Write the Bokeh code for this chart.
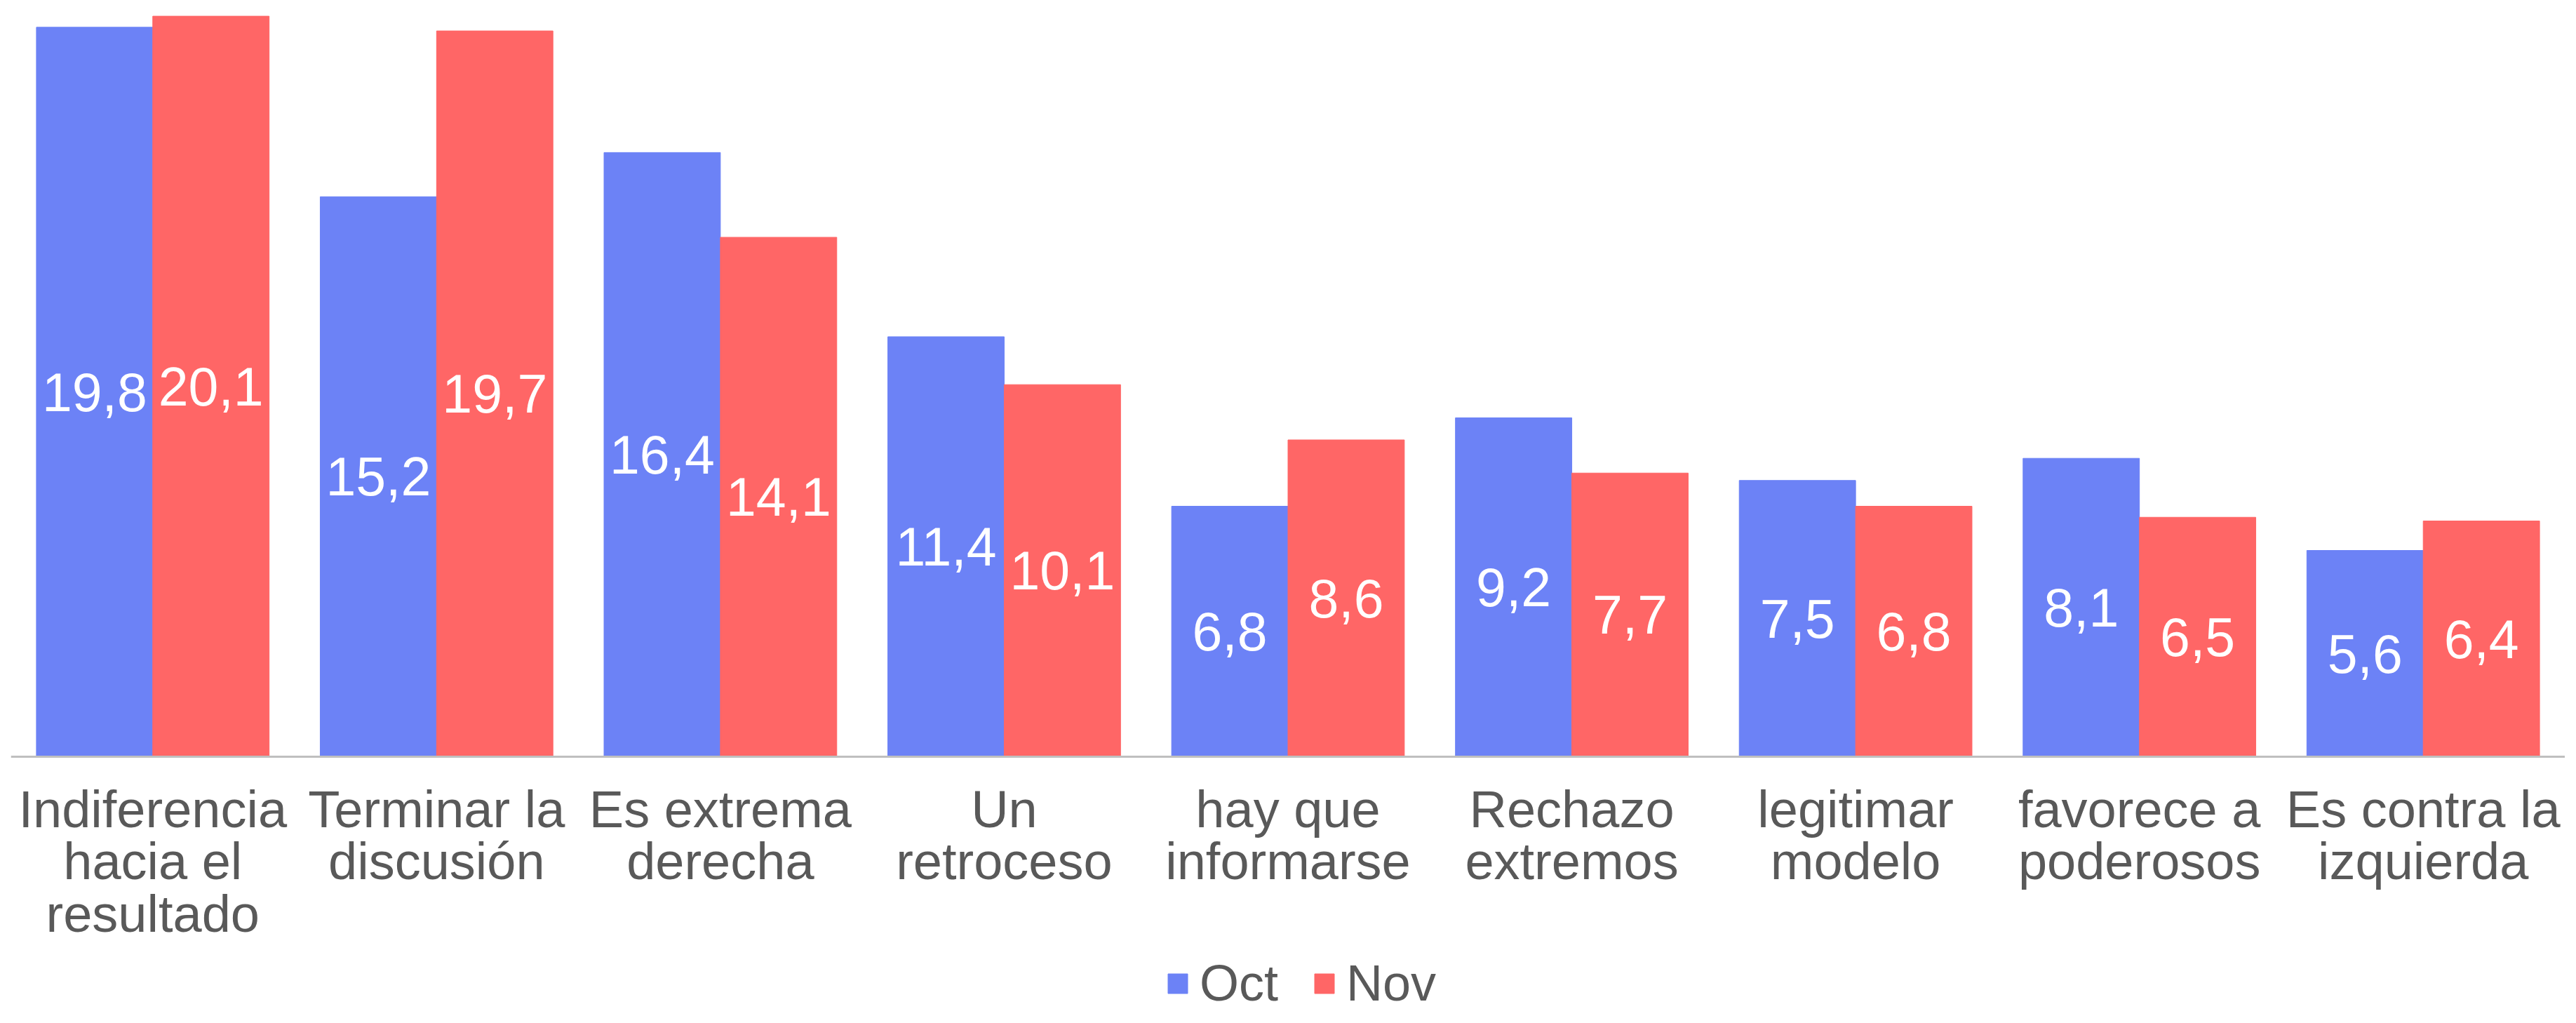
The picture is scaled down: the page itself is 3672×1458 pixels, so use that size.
from bokeh.plotting import figure
from bokeh.models import ColumnDataSource, FactorRange, Range1d, Legend, LegendItem, Span
from bokeh.transform import dodge
from bokeh.core.properties import value
from bokeh.embed import file_html
from bokeh.resources import INLINE

categories = ["Indiferencia\nhacia el\nresultado", "Terminar la\ndiscusión", "Es extrema\nderecha",
              "Un\nretroceso", "hay que\ninformarse", "Rechazo\nextremos", "legitimar\nmodelo",
              "favorece a\npoderosos", "Es contra la\nizquierda"]
oct_vals = [19.8, 15.2, 16.4, 11.4, 6.8, 9.2, 7.5, 8.1, 5.6]
nov_vals = [20.1, 19.7, 14.1, 10.1, 8.6, 7.7, 6.8, 6.5, 6.4]
series_names = ["Oct", "Nov"]

BLUE = "#6C82F6"
RED = "#FF6666"
FONT = "Liberation Sans"
TXT = "#595959"

def fmt(v):
    return f"{v:.1f}".replace(".", ",")

src = ColumnDataSource(dict(
    cat=categories,
    base=[0] * len(categories),
    oct=oct_vals, nov=nov_vals,
    oct_mid=[v / 2 for v in oct_vals], nov_mid=[v / 2 for v in nov_vals],
    oct_lbl=[fmt(v) for v in oct_vals], nov_lbl=[fmt(v) for v in nov_vals],
))

p = figure(width=3656, height=1442, output_backend="svg", toolbar_location=None,
           x_range=FactorRange(*categories, range_padding=0, factor_padding=0),
           y_range=Range1d(-6.93, 20.53),
           x_axis_location=None, y_axis_location=None,
           min_border_left=15, min_border_right=0, min_border_top=0, min_border_bottom=0)

r_oct = p.vbar(x=dodge("cat", -0.205, range=p.x_range), top="oct", width=0.41, source=src,
               fill_color=BLUE, line_color=BLUE)
r_nov = p.vbar(x=dodge("cat", 0.205, range=p.x_range), top="nov", width=0.41, source=src,
               fill_color=RED, line_color=RED)

common = dict(text_font=value(FONT), text_font_size="77px", text_color="white",
              text_align="center", text_baseline="middle", source=src)
p.text(x=dodge("cat", -0.205, range=p.x_range), y="oct_mid", text="oct_lbl", **common)
p.text(x=dodge("cat", 0.205, range=p.x_range), y="nov_mid", text="nov_lbl", **common)

# category labels (multi-line) under the baseline
p.text(x="cat", y="base", text="cat", source=src, y_offset=33,
       text_font=value(FONT), text_font_size="74px", text_color=TXT,
       text_align="center", text_baseline="top", text_line_height=0.9)

# baseline (axis line)
p.add_layout(Span(location=0, dimension="width", line_color="#BFBFBF", line_width=3))

p.xgrid.grid_line_color = None
p.ygrid.grid_line_color = None
p.outline_line_color = None

legend = Legend(items=[LegendItem(label=series_names[0], renderers=[r_oct]),
                       LegendItem(label=series_names[1], renderers=[r_nov])],
                orientation="horizontal", location=(1646, 0))
legend.label_text_font = FONT
legend.label_text_font_size = "72px"
legend.label_text_color = TXT
legend.glyph_width = 35
legend.glyph_height = 35
legend.label_standoff = 14
legend.spacing = 48
legend.padding = 0
legend.margin = 0
legend.border_line_alpha = 0
legend.background_fill_alpha = 0
p.add_layout(legend, "center")

open("out.html", "w").write(file_html(p, INLINE))
